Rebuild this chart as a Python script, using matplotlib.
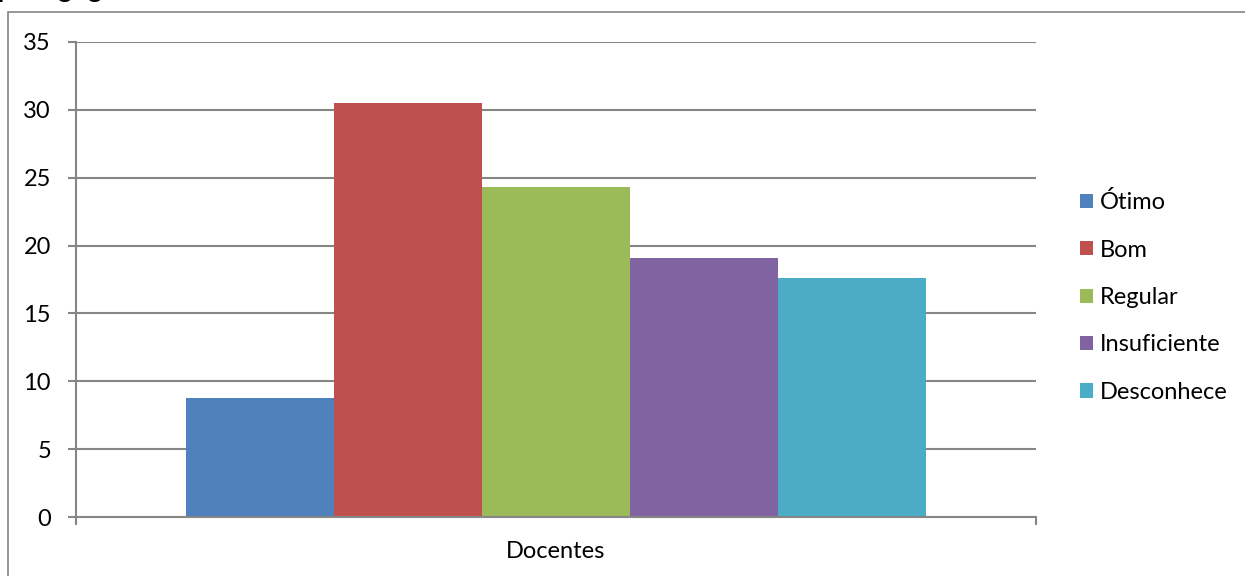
"""Bar chart: avaliação dos docentes (Ótimo .. Desconhece), one category group."""

import matplotlib

matplotlib.use("Agg")

import matplotlib.pyplot as plt
from matplotlib.patches import Rectangle

CATEGORY = "Docentes"
SERIES = ["Ótimo", "Bom", "Regular", "Insuficiente", "Desconhece"]
VALUES = [8.8, 30.5, 24.3, 19.1, 17.6]
COLORS = ["#4F81BD", "#C0504D", "#9BBB59", "#8064A2", "#4BACC6"]
Y_TICKS = [0, 5, 10, 15, 20, 25, 30, 35]

W, H = 1245, 576
GRID = "#868686"
FONT = "Lato"
FS = 17

plt.rcParams["font.family"] = [FONT, "DejaVu Sans"]

fig = plt.figure(figsize=(W / 100, H / 100), dpi=100)
fig.patch.set_facecolor("white")

# outer chart-area border (only left and top edges fall inside the crop)
fig.patches.append(Rectangle((8 / W, -0.1), 1.2, (H - 12) / H + 0.1,
                             transform=fig.transFigure, fill=False,
                             edgecolor=GRID, linewidth=1.2))

# tail of the cut-off heading above the chart (only descenders show)
fig.text(-2 / W, 1 + 3 / H, "pedagógico", fontsize=20, va="baseline",
         ha="left", color="black")

ax = fig.add_axes([76 / W, (H - 517) / H, (1036 - 76) / W, (517 - 42) / H])

n = len(SERIES)
half = (1036 - 76) / 148 / 2
offsets = [i - (n - 1) / 2 for i in range(n)]
for off, val, col, name in zip(offsets, VALUES, COLORS, SERIES):
    ax.bar(off, val, width=1.0, color=col, label=name, zorder=2)

ax.set_xlim(-half, half)
ax.set_ylim(0, 35)
ax.set_yticks(Y_TICKS)
ax.yaxis.grid(True, color=GRID, linewidth=1.5, zorder=0)
ax.set_axisbelow(True)

for side in ("top", "right"):
    ax.spines[side].set_visible(False)
for side in ("left", "bottom"):
    ax.spines[side].set_color(GRID)
    ax.spines[side].set_linewidth(1.5)

ax.tick_params(axis="y", length=6, width=1.5, color=GRID, labelsize=FS, pad=12)
ax.set_xticks([0])
ax.set_xticklabels([CATEGORY])
ax.tick_params(axis="x", length=0, labelsize=FS, pad=17)
ax.set_xticks([-half, half], minor=True)
ax.tick_params(axis="x", which="minor", length=6, width=1.5, color=GRID)

ax.legend(loc="center left", bbox_to_anchor=(1080 / W, (H - 297) / H),
          bbox_transform=fig.transFigure, frameon=False, fontsize=FS,
          handlelength=0.55, handleheight=0.55, handletextpad=0.3,
          labelspacing=1.12, borderaxespad=0, borderpad=0)

fig.savefig("out.png", dpi=100, facecolor="white")
